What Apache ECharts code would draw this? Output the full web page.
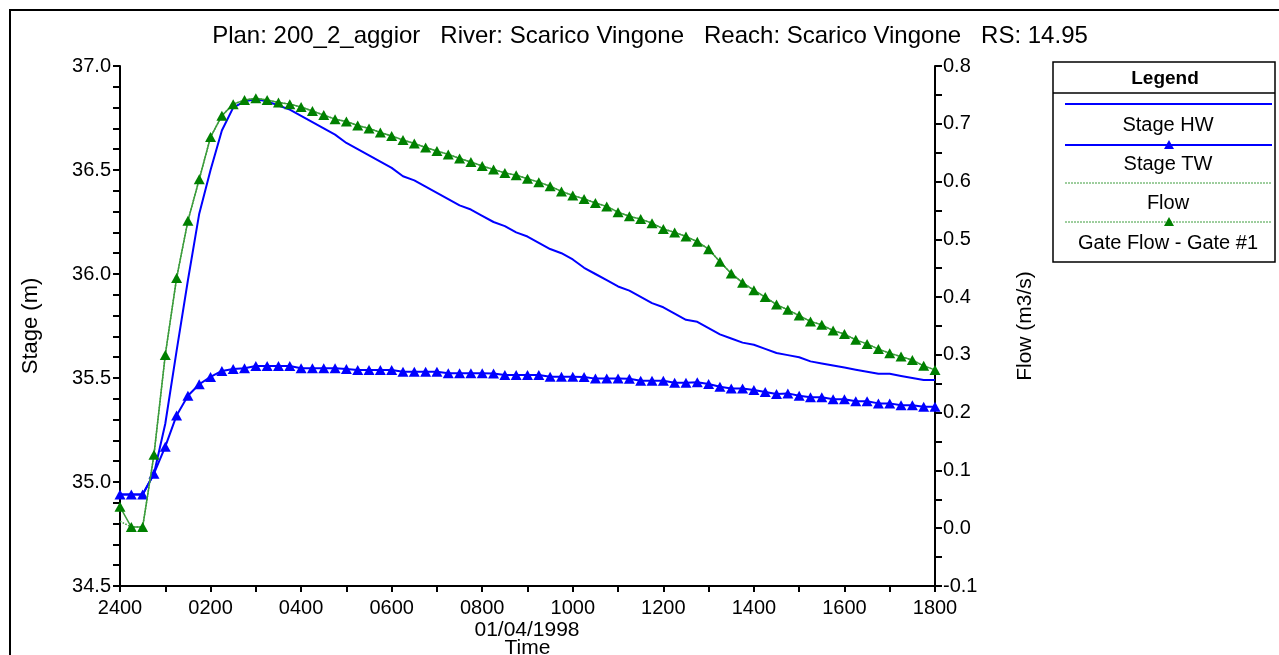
<!DOCTYPE html>
<html>
<head>
<meta charset="utf-8">
<script src="https://cdn.jsdelivr.net/npm/echarts@6/dist/echarts.min.js"></script>
<style>
html,body{margin:0;padding:0;background:#fff;overflow:hidden;}
#chart{width:1279px;height:655px;}
</style>
</head>
<body>
<div id="chart"></div>
<script>
// ---- data (15-minute steps from 2400 to 1800) ----
const titleText = 'Plan: 200_2_aggior   River: Scarico Vingone   Reach: Scarico Vingone   RS: 14.95';
const dateLabel = '01/04/1998';
const xTickLabels = ['2400','0200','0400','0600','0800','1000','1200','1400','1600','1800'];
const seriesNames = ['Stage HW','Stage TW','Flow','Gate Flow - Gate #1'];

const stageHW = [34.94,34.94,34.94,35.04,35.28,35.63,35.97,36.29,36.50,36.69,36.80,36.83,36.84,36.83,36.81,36.79,
  36.76,36.73,36.70,36.67,36.63,36.60,36.57,36.54,36.51,36.47,36.45,36.42,36.39,36.36,36.33,36.31,
  36.28,36.25,36.23,36.20,36.18,36.15,36.12,36.10,36.07,36.03,36.00,35.97,35.94,35.92,35.89,35.86,
  35.84,35.81,35.78,35.77,35.74,35.71,35.69,35.67,35.66,35.64,35.62,35.61,35.60,35.58,35.57,35.56,
  35.55,35.54,35.53,35.52,35.52,35.51,35.50,35.49,35.49];

const stageTW = [34.94,34.94,34.94,35.04,35.17,35.32,35.415,35.47,35.505,35.534,35.543,35.547,35.558,35.558,35.558,35.558,
  35.547,35.547,35.547,35.547,35.543,35.538,35.538,35.538,35.538,35.530,35.530,35.530,35.530,35.523,35.523,35.523,
  35.523,35.522,35.514,35.514,35.514,35.514,35.506,35.506,35.506,35.505,35.497,35.497,35.497,35.496,35.487,35.487,
  35.487,35.477,35.477,35.480,35.471,35.458,35.450,35.450,35.442,35.433,35.423,35.426,35.415,35.407,35.407,35.398,
  35.398,35.388,35.388,35.378,35.378,35.369,35.369,35.362,35.362];

const flow = [0.012,0.002,0.002,0.127,0.300,0.433,0.532,0.604,0.677,0.714,0.734,0.741,0.744,0.741,0.737,0.734,
  0.729,0.722,0.715,0.708,0.704,0.697,0.692,0.685,0.679,0.672,0.666,0.659,0.653,0.647,0.640,0.634,
  0.627,0.621,0.615,0.611,0.605,0.599,0.592,0.583,0.576,0.570,0.563,0.557,0.547,0.540,0.535,0.528,
  0.518,0.512,0.505,0.496,0.483,0.461,0.441,0.425,0.412,0.400,0.387,0.378,0.368,0.358,0.352,0.342,
  0.336,0.326,0.319,0.310,0.303,0.297,0.291,0.281,0.274];

const gateFlow = [0.037,0.002,0.002,0.127,0.300,0.433,0.532,0.604,0.677,0.714,0.734,0.741,0.744,0.741,0.737,0.734,
  0.729,0.722,0.715,0.708,0.704,0.697,0.692,0.685,0.679,0.672,0.666,0.659,0.653,0.647,0.640,0.634,
  0.627,0.621,0.615,0.611,0.605,0.599,0.592,0.583,0.576,0.570,0.563,0.557,0.547,0.540,0.535,0.528,
  0.518,0.512,0.505,0.496,0.483,0.461,0.441,0.425,0.412,0.400,0.387,0.378,0.368,0.358,0.352,0.342,
  0.336,0.326,0.319,0.310,0.303,0.297,0.291,0.281,0.274];

// categories: 15-minute time stamps
const times = [];
for (let i = 0; i < stageHW.length; i++) {
  const m = i * 15, h = Math.floor(m / 60), mm = m % 60;
  times.push(i === 0 ? '2400' : String(h).padStart(2,'0') + String(mm).padStart(2,'0'));
}

const FONT = '"Liberation Sans", Arial, sans-serif';
const BLUE = '#0000ff', GREEN = '#008000', LGREEN = '#3c9c3c';

const chart = echarts.init(document.getElementById('chart'), null, {renderer:'canvas'});

const axisCommon = {
  axisLine:{show:true,onZero:false,lineStyle:{color:'#000',width:2}},
  axisTick:{show:true,inside:false,length:7,lineStyle:{color:'#000',width:2}},
  axisLabel:{color:'#000',fontSize:20,fontFamily:FONT},
  splitLine:{show:false},
  nameTextStyle:{color:'#000',fontSize:21,fontFamily:FONT}
};

const LX = 1053, LW = 222, LT = 62;
const legendGraphics = [
  {type:'rect',shape:{x:LX,y:LT,width:LW,height:200},style:{fill:'#fff',stroke:'#000',lineWidth:1.5},z:10},
  {type:'line',shape:{x1:LX,y1:93,x2:LX+LW,y2:93},style:{stroke:'#000',lineWidth:1.5},z:11},
  {type:'text',x:1165,y:79,style:{text:'Legend',font:'bold 19px '+FONT,textAlign:'center',textVerticalAlign:'middle',fill:'#000'},z:11},
  {type:'line',shape:{x1:1065,y1:104,x2:1272,y2:104},style:{stroke:BLUE,lineWidth:2},z:11},
  {type:'text',x:1168,y:125,style:{text:seriesNames[0],font:'20px '+FONT,textAlign:'center',textVerticalAlign:'middle',fill:'#000'},z:11},
  {type:'line',shape:{x1:1065,y1:145,x2:1272,y2:145},style:{stroke:BLUE,lineWidth:2},z:11},
  {type:'polygon',shape:{points:[[1169,140],[1174,149],[1164,149]]},style:{fill:BLUE},z:12},
  {type:'text',x:1168,y:164,style:{text:seriesNames[1],font:'20px '+FONT,textAlign:'center',textVerticalAlign:'middle',fill:'#000'},z:11},
  {type:'line',shape:{x1:1065,y1:183,x2:1272,y2:183},style:{stroke:LGREEN,lineWidth:1,lineDash:[2,1]},z:11},
  {type:'text',x:1168,y:203,style:{text:seriesNames[2],font:'20px '+FONT,textAlign:'center',textVerticalAlign:'middle',fill:'#000'},z:11},
  {type:'line',shape:{x1:1065,y1:222,x2:1272,y2:222},style:{stroke:LGREEN,lineWidth:1,lineDash:[2,1]},z:11},
  {type:'polygon',shape:{points:[[1169,217],[1174,226],[1164,226]]},style:{fill:GREEN},z:12},
  {type:'text',x:1168,y:243,style:{text:seriesNames[3],font:'20px '+FONT,textAlign:'center',textVerticalAlign:'middle',fill:'#000'},z:11}
];

const option = {
  backgroundColor:'#fff',
  animation:false,
  grid:{left:120,right:344,top:66,bottom:69,containLabel:false,outerBoundsMode:'none'},
  graphic:[
    {type:'rect',shape:{x:10,y:10,width:1300,height:700},style:{fill:'none',stroke:'#000',lineWidth:2},z:0,silent:true},
    {type:'text',x:650,y:36,style:{text:titleText,font:'24px '+FONT,textAlign:'center',textVerticalAlign:'middle',fill:'#000'},z:5},
    {type:'text',x:527,y:630,style:{text:dateLabel,font:'21px '+FONT,textAlign:'center',textVerticalAlign:'middle',fill:'#000'},z:5}
  ].concat(legendGraphics),
  xAxis:Object.assign({},axisCommon,{
    type:'category',data:times,boundaryGap:false,
    axisTick:{show:true,inside:false,length:6,interval:3,lineStyle:{color:'#000',width:2}},
    axisLabel:{color:'#000',fontSize:20,fontFamily:FONT,interval:7,margin:12,
      formatter:(v,i)=> xTickLabels[Math.round(i/8)]},
    name:'Time',nameLocation:'middle',nameGap:52
  }),
  yAxis:[
    Object.assign({},axisCommon,{
      type:'value',min:34.5,max:37.0,interval:0.5,position:'left',
      minorTick:{show:true,splitNumber:5,length:7,lineStyle:{color:'#000',width:2}},
      axisLabel:Object.assign({},axisCommon.axisLabel,{margin:9,formatter:v=>v.toFixed(1)}),
      name:'Stage (m)',nameLocation:'middle',nameGap:78,nameRotate:90,
      nameTextStyle:{color:'#000',fontSize:22,fontFamily:FONT}
    }),
    Object.assign({},axisCommon,{
      type:'value',min:-0.1,max:0.8,interval:0.1,position:'right',
      minorTick:{show:true,splitNumber:2,length:7,lineStyle:{color:'#000',width:2}},
      axisLabel:Object.assign({},axisCommon.axisLabel,{margin:8,formatter:v=>v.toFixed(1)}),
      name:'Flow (m3/s)',nameLocation:'middle',nameGap:80,nameRotate:90
    })
  ],
  series:[
    {name:seriesNames[0],type:'line',yAxisIndex:0,data:stageHW,showSymbol:false,symbol:'none',
      lineStyle:{color:BLUE,width:2},itemStyle:{color:BLUE},z:2},
    {name:seriesNames[1],type:'line',yAxisIndex:0,data:stageTW,symbol:'triangle',symbolSize:[11,10],showAllSymbol:true,
      lineStyle:{color:BLUE,width:2},itemStyle:{color:BLUE},z:3},
    {name:seriesNames[2],type:'line',yAxisIndex:1,data:flow,symbol:'none',
      lineStyle:{color:LGREEN,width:1.5,type:'dotted'},itemStyle:{color:LGREEN},z:4},
    {name:seriesNames[3],type:'line',yAxisIndex:1,data:gateFlow,symbol:'triangle',symbolSize:[11,10],showAllSymbol:true,
      lineStyle:{color:LGREEN,width:1.5},itemStyle:{color:GREEN},z:5}
  ]
};
chart.setOption(option);
</script>
</body>
</html>
